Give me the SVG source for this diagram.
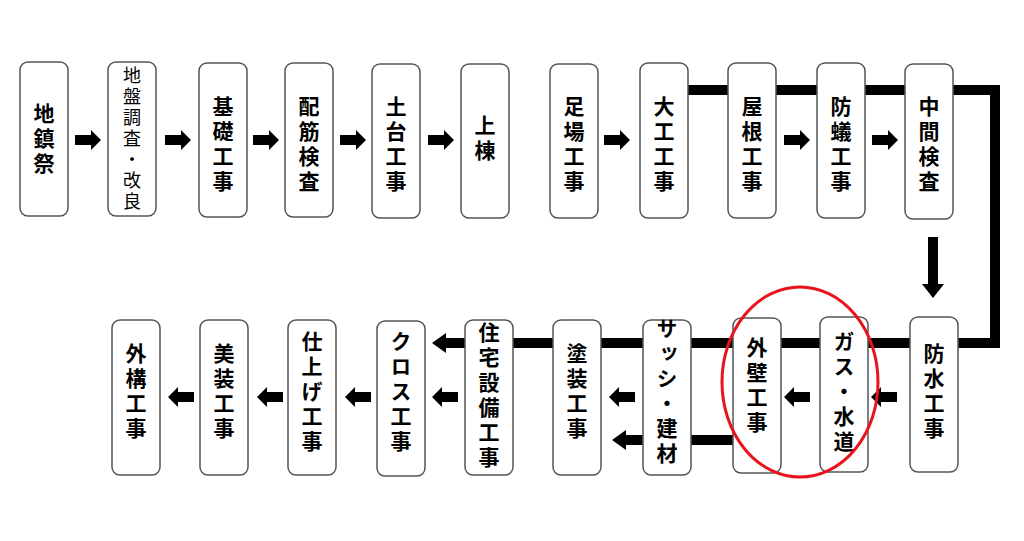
<svg xmlns="http://www.w3.org/2000/svg" width="1024" height="541" viewBox="0 0 1024 541">
<style>
.b{fill:#fff;stroke:#555;stroke-width:1.5}
.t{font-family:"Noto Sans CJK JP",sans-serif;font-weight:bold;font-size:21px;writing-mode:vertical-rl;text-anchor:middle;letter-spacing:4px;fill:#000}
.n{font-weight:normal;font-size:18px;letter-spacing:3px}
.ar{fill:#000}
</style>
<defs>
<path id="ar" d="M-13,-5 H3 V-10 L13,0 L3,10 V5 H-13 Z"/>
</defs>
<g id="connectors">
<path d="M688,90 H995 V343 H440" fill="none" stroke="#000" stroke-width="10"/>
<path d="M446,333 L432,343 L446,353 Z" class="ar"/>
<path d="M733,440 H624" fill="none" stroke="#000" stroke-width="10"/>
<path d="M626,430 L612,440 L626,450 Z" class="ar"/>
<use href="#ar" x="88" y="140"/>
<use href="#ar" x="178" y="140"/>
<use href="#ar" x="266" y="140"/>
<use href="#ar" x="353" y="140"/>
<use href="#ar" x="441" y="140"/>
<use href="#ar" x="617" y="140"/>
<use href="#ar" x="797" y="140"/>
<use href="#ar" x="885" y="140"/>
<path d="M928,237 H938 V284 H944 L933,298 L922,284 H928 Z" class="ar"/>
<use href="#ar" transform="translate(884,397) rotate(180)"/>
<use href="#ar" transform="translate(797,397) rotate(180)"/>
<use href="#ar" transform="translate(622,397) rotate(180)"/>
<use href="#ar" transform="translate(445,397) rotate(180)"/>
<use href="#ar" transform="translate(358,397) rotate(180)"/>
<use href="#ar" transform="translate(270,397) rotate(180)"/>
<use href="#ar" transform="translate(181,397) rotate(180)"/>
</g>
<g id="n1"><rect class="b" x="20" y="62" width="48" height="154" rx="8"/><text class="t" x="44" y="140">地鎮祭</text></g>
<g id="n2"><rect class="b" x="108" y="62" width="48" height="154" rx="8"/><text class="t n" x="132" y="140">地盤調査・改良</text></g>
<g id="n3"><rect class="b" x="199" y="63" width="48" height="154" rx="8"/><text class="t" x="223" y="146">基礎工事</text></g>
<g id="n4"><rect class="b" x="285" y="63" width="48" height="154" rx="8"/><text class="t" x="309" y="146">配筋検査</text></g>
<g id="n5"><rect class="b" x="372" y="64" width="48" height="154" rx="8"/><text class="t" x="396" y="146">土台工事</text></g>
<g id="n6"><rect class="b" x="461" y="64" width="48" height="154" rx="8"/><text class="t" x="485" y="140">上棟</text></g>
<g id="n7"><rect class="b" x="550" y="64" width="48" height="154" rx="8"/><text class="t" x="574" y="146">足場工事</text></g>
<g id="n8"><rect class="b" x="640" y="63" width="48" height="155" rx="8"/><text class="t" x="664" y="146">大工工事</text></g>
<g id="n9"><rect class="b" x="728" y="63" width="48" height="155" rx="8"/><text class="t" x="752" y="146">屋根工事</text></g>
<g id="n10"><rect class="b" x="817" y="63" width="48" height="155" rx="8"/><text class="t" x="841" y="146">防蟻工事</text></g>
<g id="n11"><rect class="b" x="905" y="64" width="48" height="155" rx="8"/><text class="t" x="929" y="146">中間検査</text></g>
<g id="n12"><rect class="b" x="910" y="317" width="48" height="155" rx="8"/><text class="t" x="934" y="393">防水工事</text></g>
<g id="n13"><rect class="b" x="820" y="317" width="48" height="155" rx="8"/><text class="t" x="844" y="393">ガス・水道</text></g>
<g id="n14"><rect class="b" x="733" y="318" width="48" height="155" rx="8"/><text class="t" x="757" y="387">外壁工事</text></g>
<g id="n15"><rect class="b" x="643" y="320" width="48" height="155" rx="8"/><text class="t" x="667" y="393">サッシ・建材</text></g>
<g id="n16"><rect class="b" x="553" y="320" width="48" height="155" rx="8"/><text class="t" x="577" y="393">塗装工事</text></g>
<g id="n17"><rect class="b" x="465" y="320" width="48" height="155" rx="8"/><text class="t" x="489" y="397">住宅設備工事</text></g>
<g id="n18"><rect class="b" x="377" y="321" width="48" height="155" rx="8"/><text class="t" x="401" y="393">クロス工事</text></g>
<g id="n19"><rect class="b" x="288" y="320" width="48" height="155" rx="8"/><text class="t" x="312" y="393">仕上げ工事</text></g>
<g id="n20"><rect class="b" x="200" y="320" width="48" height="155" rx="8"/><text class="t" x="224" y="393">美装工事</text></g>
<g id="n21"><rect class="b" x="112" y="320" width="48" height="155" rx="8"/><text class="t" x="136" y="393">外構工事</text></g>
<ellipse cx="800" cy="382" rx="78" ry="95" fill="none" stroke="#e8141c" stroke-width="3"/>
</svg>
